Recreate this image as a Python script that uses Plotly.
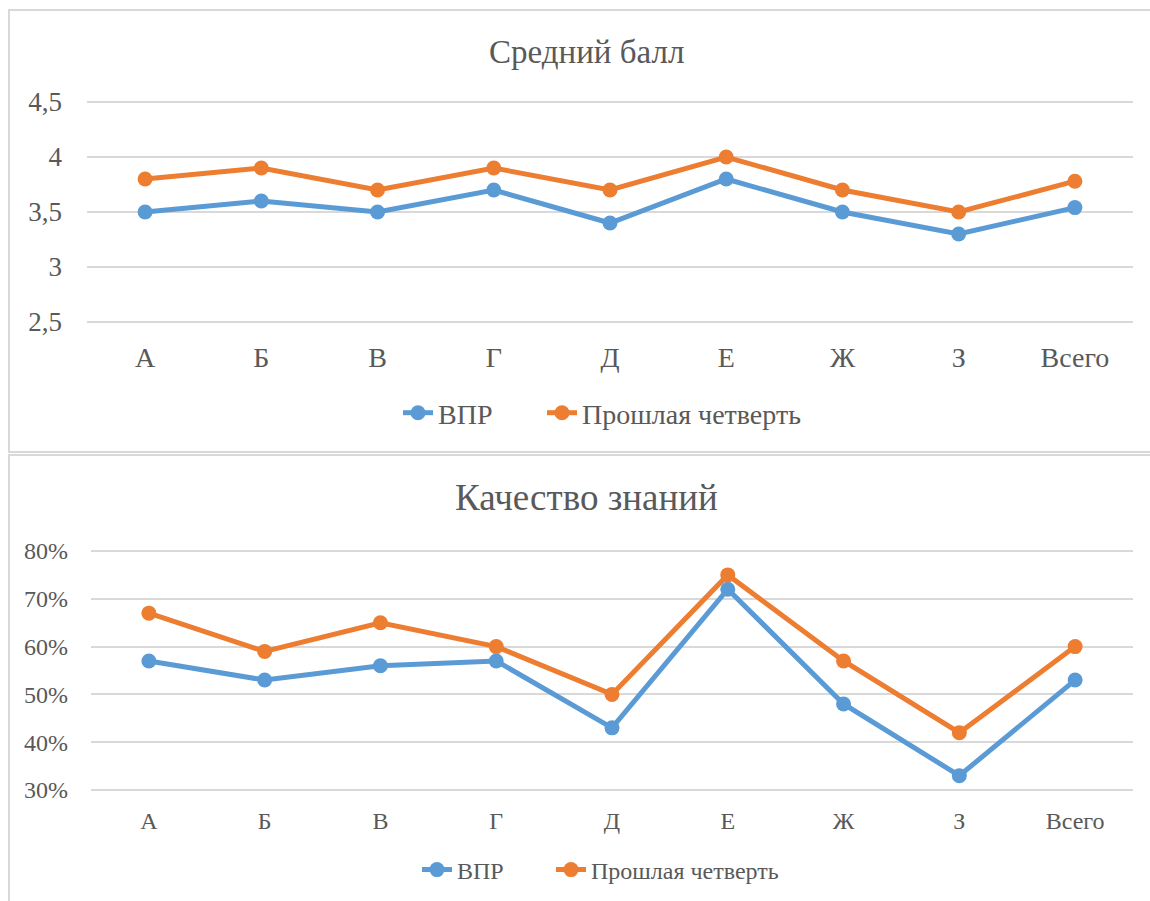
import plotly.graph_objects as go

categories = ["А", "Б", "В", "Г", "Д", "Е", "Ж", "З", "Всего"]

# Средний балл
score_vpr = [3.5, 3.6, 3.5, 3.7, 3.4, 3.8, 3.5, 3.3, 3.54]
score_prev = [3.8, 3.9, 3.7, 3.9, 3.7, 4.0, 3.7, 3.5, 3.78]

# Качество знаний
quality_vpr = [0.57, 0.53, 0.56, 0.57, 0.43, 0.72, 0.48, 0.33, 0.53]
quality_prev = [0.67, 0.59, 0.65, 0.60, 0.50, 0.75, 0.57, 0.42, 0.60]

series_names = ["ВПР", "Прошлая четверть"]
colors = ["#5B9BD5", "#ED7D31"]

W, H = 1150, 901
FONT = "'Liberation Serif', serif"
TXT = "#595959"
GRID = "#D9D9D9"


def px(x):
    return x / W


def py(y):
    return 1 - y / H


fig = go.Figure()

top_legends = ["legend", "legend2"]
bot_legends = ["legend3", "legend4"]

for name, vals, col, lg in zip(series_names, [score_vpr, score_prev], colors, top_legends):
    fig.add_trace(go.Scatter(
        x=categories, y=vals, name=name, mode="lines+markers",
        line=dict(color=col, width=5), marker=dict(color=col, size=15),
        xaxis="x", yaxis="y", legend=lg))

for name, vals, col, lg in zip(series_names, [quality_vpr, quality_prev], colors, bot_legends):
    fig.add_trace(go.Scatter(
        x=categories, y=vals, name=name, mode="lines+markers",
        line=dict(color=col, width=5), marker=dict(color=col, size=15),
        xaxis="x2", yaxis="y2", legend=lg))

common_x = dict(type="category", range=[-0.5, 8.5], showgrid=False, zeroline=False,
                showline=False, ticks="", color=TXT, fixedrange=True, automargin=False)
common_y = dict(showgrid=True, gridcolor=GRID, gridwidth=2, zeroline=False,
                showline=False, ticks="", color=TXT, fixedrange=True, automargin=False)

# small padding so that the edge gridlines are drawn
d1 = 0.02   # top chart: 110 px per unit
d2 = 0.005  # bottom chart: 480 px per unit
top_px_per_unit = 110.0
bot_px_per_unit = 480.0


def leg(x, y, size):
    return dict(orientation="h", x=px(x), xanchor="left", y=py(y), yanchor="middle",
                font=dict(size=size, family=FONT, color=TXT), bgcolor="rgba(0,0,0,0)")


fig.update_layout(
    template="none",
    width=W, height=H,
    margin=dict(l=0, r=0, t=0, b=0, pad=0),
    paper_bgcolor="white", plot_bgcolor="white",
    separators=", ",
    font=dict(family=FONT, color=TXT),
    xaxis=dict(**common_x, domain=[px(87), px(1133)], anchor="y",
               tickfont=dict(size=28, family=FONT, color=TXT), ticklabelstandoff=14),
    yaxis=dict(**common_y,
               domain=[py(322 + d1 * top_px_per_unit), py(102 - d1 * top_px_per_unit)],
               anchor="x", range=[2.5 - d1, 4.5 + d1], tick0=2.5, dtick=0.5,
               tickfont=dict(size=27, family=FONT, color=TXT), ticklabelstandoff=24),
    xaxis2=dict(**common_x, domain=[px(91), px(1133)], anchor="y2",
                tickfont=dict(size=24, family=FONT, color=TXT), ticklabelstandoff=12),
    yaxis2=dict(**common_y,
                domain=[py(790 + d2 * bot_px_per_unit), py(551 - d2 * bot_px_per_unit)],
                anchor="x2", range=[0.3 - d2, 0.8 + d2], tick0=0.3, dtick=0.1,
                tickformat=".0%",
                tickfont=dict(size=24, family=FONT, color=TXT), ticklabelstandoff=22),
    legend=leg(398, 413, 28),
    legend2=leg(542, 413, 28),
    legend3=leg(417, 870, 24),
    legend4=leg(551, 870, 24),
    showlegend=True,
    hovermode=False,
    annotations=[
        dict(text="Средний балл", x=px(586), y=py(52), xref="paper", yref="paper",
             xanchor="center", yanchor="middle", showarrow=False,
             font=dict(size=33, family=FONT, color=TXT)),
        dict(text="Качество знаний", x=px(586), y=py(497), xref="paper", yref="paper",
             xanchor="center", yanchor="middle", showarrow=False,
             font=dict(size=37, family=FONT, color=TXT)),
    ],
    shapes=[
        dict(type="rect", xref="paper", yref="paper", x0=px(9), x1=px(1165),
             y0=py(452), y1=py(10), line=dict(color=GRID, width=2), layer="below"),
        dict(type="rect", xref="paper", yref="paper", x0=px(9), x1=px(1165),
             y0=py(920), y1=py(455), line=dict(color=GRID, width=2), layer="below"),
    ],
)

fig.write_html("out.html", config={"displayModeBar": False},
               post_script="document.body.style.margin='0';document.body.style.overflow='hidden';")
